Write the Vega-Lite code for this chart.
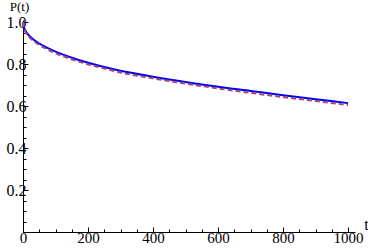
{
  "$schema": "https://vega.github.io/schema/vega-lite/v6.json",
  "autosize": "none",
  "width": 332,
  "height": 212,
  "padding": {"left": 23, "top": 20, "right": 13, "bottom": 19},
  "background": "white",
  "config": {
    "view": {"stroke": null},
    "font": "Liberation Serif",
    "axis": {
      "grid": false,
      "domainColor": "black",
      "domainWidth": 1,
      "tickColor": "black",
      "tickWidth": 1,
      "labelColor": "black",
      "titleFontWeight": "normal",
      "titleColor": "black",
      "labelOverlap": false,
      "labelFlush": false
    }
  },
  "data": {
    "values": [
      {"t": 0, "P": 1.0, "s": "a"}, {"t": 2, "P": 0.979, "s": "a"}, {"t": 5, "P": 0.966, "s": "a"},
      {"t": 10, "P": 0.953, "s": "a"}, {"t": 20, "P": 0.934, "s": "a"}, {"t": 30, "P": 0.92, "s": "a"},
      {"t": 50, "P": 0.898, "s": "a"}, {"t": 75, "P": 0.877, "s": "a"}, {"t": 100, "P": 0.859, "s": "a"},
      {"t": 150, "P": 0.83, "s": "a"}, {"t": 200, "P": 0.806, "s": "a"}, {"t": 250, "P": 0.786, "s": "a"},
      {"t": 300, "P": 0.768, "s": "a"}, {"t": 400, "P": 0.74, "s": "a"}, {"t": 500, "P": 0.715, "s": "a"},
      {"t": 600, "P": 0.692, "s": "a"}, {"t": 700, "P": 0.672, "s": "a"}, {"t": 800, "P": 0.652, "s": "a"},
      {"t": 900, "P": 0.633, "s": "a"}, {"t": 1000, "P": 0.614, "s": "a"},
      {"t": 0, "P": 1.0, "s": "b"}, {"t": 2, "P": 0.975, "s": "b"}, {"t": 5, "P": 0.961, "s": "b"},
      {"t": 10, "P": 0.947, "s": "b"}, {"t": 20, "P": 0.927, "s": "b"}, {"t": 30, "P": 0.913, "s": "b"},
      {"t": 50, "P": 0.891, "s": "b"}, {"t": 75, "P": 0.87, "s": "b"}, {"t": 100, "P": 0.852, "s": "b"},
      {"t": 150, "P": 0.823, "s": "b"}, {"t": 200, "P": 0.799, "s": "b"}, {"t": 250, "P": 0.779, "s": "b"},
      {"t": 300, "P": 0.76, "s": "b"}, {"t": 400, "P": 0.732, "s": "b"}, {"t": 500, "P": 0.707, "s": "b"},
      {"t": 600, "P": 0.684, "s": "b"}, {"t": 700, "P": 0.663, "s": "b"}, {"t": 800, "P": 0.643, "s": "b"},
      {"t": 900, "P": 0.624, "s": "b"}, {"t": 1000, "P": 0.605, "s": "b"}
    ]
  },
  "encoding": {
    "x": {
      "field": "t", "type": "quantitative",
      "scale": {"domain": [0, 1021.5], "nice": false, "zero": false},
      "axis": {
        "title": "t",
        "titleFont": "Liberation Serif",
        "titleFontSize": 16,
        "labelFont": "Liberation Serif",
        "labelFontSize": 15,
        "titleAngle": 0,
        "titleX": 343,
        "titleY": -3,
        "titleAlign": "center",
        "titleBaseline": "alphabetic",
        "values": [0, 50, 100, 150, 200, 250, 300, 350, 400, 450, 500, 550, 600, 650, 700, 750, 800, 850, 900, 950, 1000],
        "labelExpr": "datum.value % 200 === 0 ? format(datum.value, 'd') : ''",
        "tickSize": {"condition": {"test": "datum.value % 200 === 0", "value": -5}, "value": -3},
        "labelPadding": 3
      }
    },
    "y": {
      "field": "P", "type": "quantitative",
      "scale": {"domain": [0, 1.01], "nice": false, "zero": false},
      "axis": {
        "title": "P(t)",
        "titleFont": "Liberation Serif",
        "titleFontSize": 13,
        "labelFont": "Liberation Serif",
        "labelFontSize": 16,
        "titleAngle": 0,
        "titleX": -4,
        "titleY": -10,
        "titleAlign": "center",
        "titleBaseline": "alphabetic",
        "values": [0, 0.05, 0.1, 0.15, 0.2, 0.25, 0.3, 0.35, 0.4, 0.45, 0.5, 0.55, 0.6, 0.65, 0.7, 0.75, 0.8, 0.85, 0.9, 0.95, 1.0],
        "labelExpr": "(round(datum.value * 20) % 4 === 0 && datum.value > 0) ? format(datum.value, '.1f') : ''",
        "tickSize": {"condition": {"test": "round(datum.value * 20) % 4 === 0", "value": -5}, "value": -3},
        "labelPadding": 2
      }
    }
  },
  "layer": [
    {
      "transform": [{"filter": "datum.s === 'a'"}],
      "mark": {"type": "line", "color": "#0000ff", "strokeWidth": 2, "interpolate": "monotone"}
    },
    {
      "transform": [{"filter": "datum.s === 'b'"}],
      "mark": {"type": "line", "color": "#a8446f", "strokeWidth": 2, "strokeDash": [5, 3], "interpolate": "monotone"}
    }
  ]
}
